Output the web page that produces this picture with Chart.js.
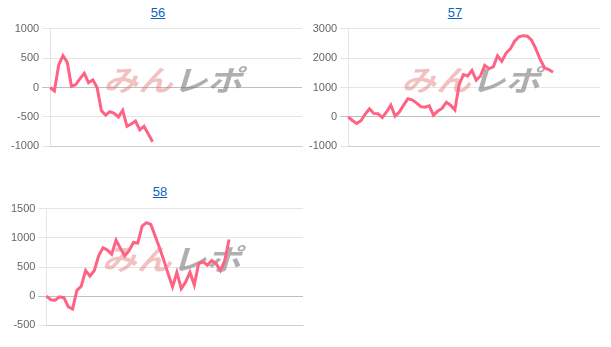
<!DOCTYPE html>
<html>
<head>
<meta charset="utf-8">
<script src="https://cdn.jsdelivr.net/npm/chart.js@4.4.0/dist/chart.umd.min.js"></script>
<style>
body{margin:0;background:#fff;font-family:"Liberation Sans",Arial,sans-serif;}
.ttl{position:absolute;width:60px;margin-left:-30px;text-align:center;font-size:13px;line-height:15px;color:#0a66c2;text-decoration:underline;cursor:pointer;}
canvas{position:absolute;}
</style>
</head>
<body>
<a class="ttl" style="left:158px;top:5px">56</a>
<a class="ttl" style="left:455px;top:5px">57</a>
<a class="ttl" style="left:160px;top:184px">58</a>
<canvas id="c56" width="305" height="137" style="left:0;top:19px"></canvas>
<canvas id="c57" width="300" height="137" style="left:300px;top:19px"></canvas>
<canvas id="c58" width="305" height="136" style="left:0;top:199px"></canvas>
<script>
// game labels (x axis is hidden)
var games = [];
for (var i = 1; i <= 60; i++) games.push(String(i));

// 差枚 per machine
var data56 = [0,-60,380,540,430,20,50,150,240,80,130,0,-390,-470,-410,-440,-500,-390,-660,-620,-570,-720,-660,-790,-920];
var data57 = [0,-120,-220,-130,100,280,120,110,-20,170,400,30,170,400,620,580,480,350,330,380,60,200,290,500,400,240,
  1100,1440,1390,1580,1250,1390,1750,1640,1700,2080,1890,2170,2310,2570,2720,2760,2740,2600,2300,1950,1670,1610,1520];
var data58 = [0,-60,-70,-10,-25,-180,-220,100,170,440,345,440,690,830,790,720,960,820,690,780,920,910,1200,1260,1230,
  1030,830,610,380,160,410,130,240,410,190,560,590,530,610,560,440,610,970];

var watermark = {
  id: 'watermark',
  beforeDatasetsDraw: function(chart) {
    var a = chart.chartArea, c = chart.ctx;
    c.save();
    c.translate((a.left + a.right) / 2, (a.top + a.bottom) / 2 - 8);
    c.transform(1.2, 0, -0.3, 1, 0, 0);
    c.font = 'bold 29px "Noto Sans CJK JP"';
    c.textBaseline = 'middle';
    var w1 = c.measureText('みん').width, w2 = c.measureText('レポ').width;
    var x = -(w1 + w2) / 2;
    c.fillStyle = 'rgba(225,110,110,0.42)';
    c.fillText('みん', x, 0);
    c.fillStyle = 'rgba(110,110,110,0.55)';
    c.fillText('レポ', x + w1, 0);
    c.restore();
  }
};

function makeChart(id, values, min, max, step, pad) {
  return new Chart(document.getElementById(id), {
    type: 'line',
    data: {
      labels: games,
      datasets: [{
        data: values,
        borderColor: 'rgb(255,99,132)',
        borderWidth: 3,
        pointRadius: 0,
        fill: false,
        tension: 0
      }]
    },
    options: {
      responsive: false,
      animation: false,
      layout: { padding: pad },
      plugins: { legend: { display: false }, tooltip: { enabled: false } },
      scales: {
        x: {
          ticks: { display: false },
          grid: { display: false },
          border: { color: 'rgba(0,0,0,0.1)' }
        },
        y: {
          min: min, max: max,
          ticks: {
            stepSize: step,
            color: '#666',
            font: { family: '"Liberation Sans", Arial', size: 11 },
            callback: function(v) { return String(v); }
          },
          grid: {
            color: function(ctx) {
              return ctx.tick && ctx.tick.value === 0 ? 'rgba(0,0,0,0.25)' : 'rgba(0,0,0,0.1)';
            }
          },
          border: { color: 'rgba(0,0,0,0.1)' }
        }
      }
    },
    plugins: [watermark]
  });
}

makeChart('c56', data56, -1000, 1000, 500, { left: 8, right: 3 });
makeChart('c57', data57, -1000, 3000, 1000, { left: 6, right: 0 });
makeChart('c58', data58, -500, 1500, 500, { left: 8, right: 2 });
</script>
</body>
</html>
